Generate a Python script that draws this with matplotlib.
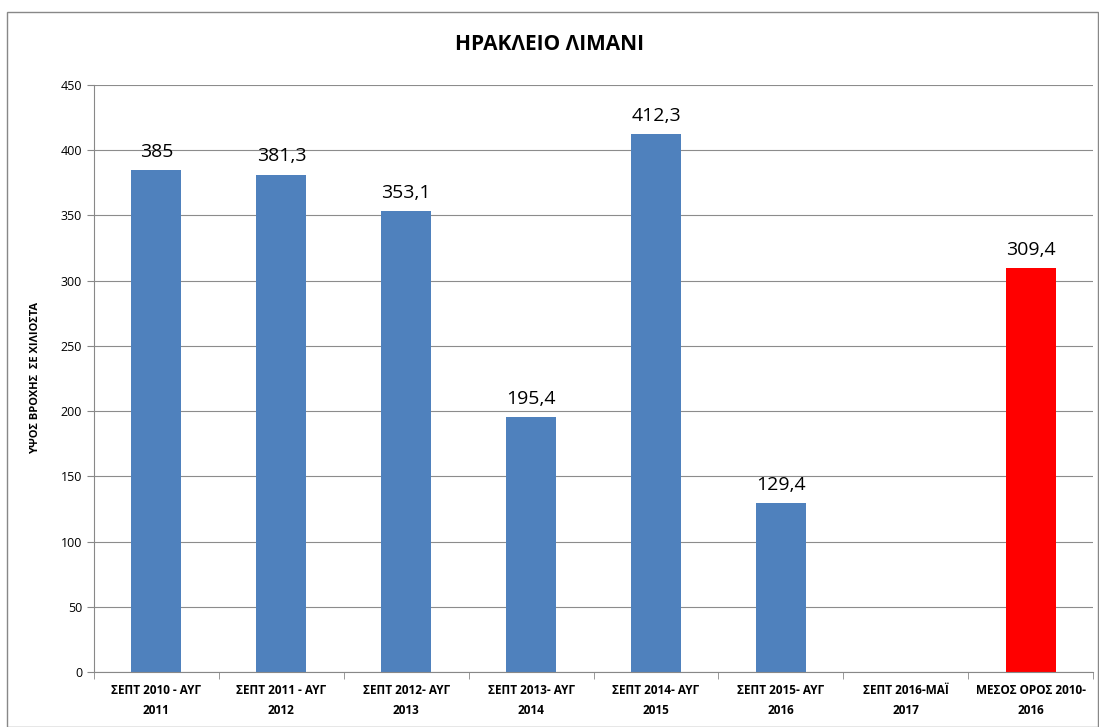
import matplotlib
matplotlib.use("Agg")
import matplotlib.pyplot as plt
import numpy as np
from matplotlib.patches import Rectangle

categories = ["ΣΕΠΤ 2010 - ΑΥΓ\n2011", "ΣΕΠΤ 2011 - ΑΥΓ\n2012", "ΣΕΠΤ 2012- ΑΥΓ\n2013",
              "ΣΕΠΤ 2013- ΑΥΓ\n2014", "ΣΕΠΤ 2014- ΑΥΓ\n2015", "ΣΕΠΤ 2015- ΑΥΓ\n2016",
              "ΣΕΠΤ 2016-ΜΑΪ\n2017", "ΜΕΣΟΣ ΟΡΟΣ 2010-\n2016"]
values = [385, 381.3, 353.1, 195.4, 412.3, 129.4, None, 309.4]
labels = ["385", "381,3", "353,1", "195,4", "412,3", "129,4", None, "309,4"]
colors = ["#4F81BD"] * 7 + ["#FF0000"]
yticks = list(range(0, 451, 50))

plt.rcParams['font.family'] = ['Open Sans', 'DejaVu Sans']

fig = plt.figure(figsize=(10.99, 7.27), dpi=100)
fig.patches.append(Rectangle((7/1099, 0), 1 - 8/1099, 1 - 12/727, transform=fig.transFigure,
                             fill=False, edgecolor="#888888", linewidth=1))
ax = fig.add_axes([94/1099, 1 - 672/727, 999/1099, (672 - 85)/727])

x = np.arange(len(categories))
for i, (v, lab, c) in enumerate(zip(values, labels, colors)):
    if v is None:
        continue
    ax.bar(i, v, width=0.4, color=c, zorder=3)
    ax.text(i, v + 7, lab, ha="center", va="bottom", fontsize=14)

ax.set_xlim(-0.5, len(categories) - 0.5)
ax.set_ylim(0, 450)
ax.set_yticks(yticks)
ax.set_yticklabels([str(t) for t in yticks], fontsize=9)
ax.set_xticks(x)
ax.set_xticklabels(categories, fontsize=8.5, fontweight="bold", linespacing=1.7)
ax.tick_params(axis="x", length=0, pad=9)
ax.set_xticks(np.arange(-0.5, len(categories), 1), minor=True)
ax.tick_params(axis="x", which="minor", length=5, color="#888888")
ax.tick_params(axis="y", length=5, color="#888888")
ax.grid(axis="y", color="#8c8c8c", linewidth=0.8, zorder=0)
for s in ["top", "right"]:
    ax.spines[s].set_visible(False)
for s in ["left", "bottom"]:
    ax.spines[s].set_color("#888888")
ax.spines["bottom"].set_zorder(4)
ax.set_ylabel("ΥΨΟΣ ΒΡΟΧΗΣ  ΣΕ ΧΙΛΙΟΣΤΑ", fontsize=8, fontweight="bold", labelpad=14)
fig.text(0.5, 1 - 45/727, "ΗΡΑΚΛΕΙΟ ΛΙΜΑΝΙ", ha="center", va="center", fontsize=15, fontweight="bold")

fig.savefig("out.png", dpi=100)
